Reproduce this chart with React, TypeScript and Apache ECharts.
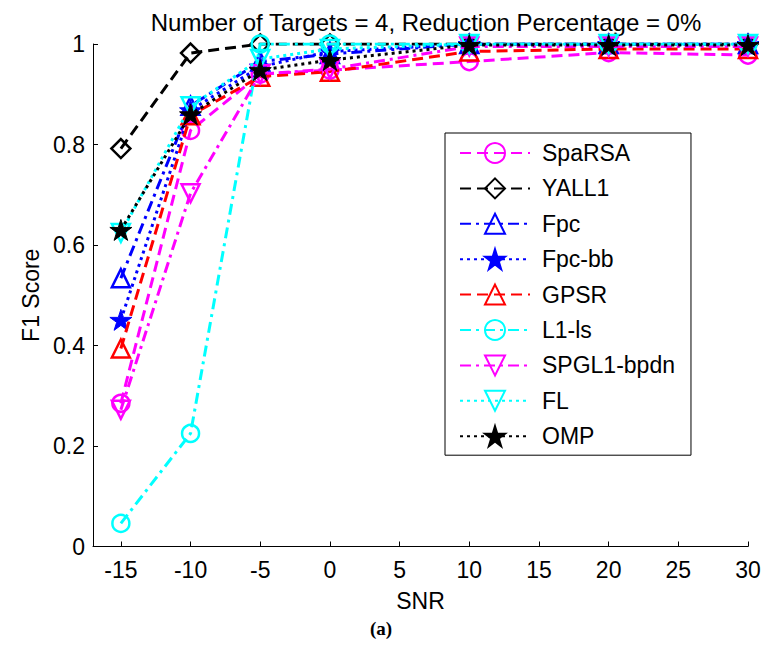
import React, { useEffect, useRef } from "react";
import * as echarts from "echarts";

const snr = [-15, -10, -5, 0, 10, 20, 30];
const xTicks = [-15, -10, -5, 0, 5, 10, 15, 20, 25, 30];
const yTicks = [0, 0.2, 0.4, 0.6, 0.8, 1];

const spaRSA = [0.285, 0.828, 0.94, 0.948, 0.965, 0.983, 0.978];
const yall1 = [0.792, 0.982, 1.0, 1.0, 1.0, 1.0, 1.0];
const fpc = [0.534, 0.877, 0.965, 0.98, 1.0, 1.0, 1.0];
const fpcBB = [0.451, 0.868, 0.955, 0.985, 1.0, 1.0, 1.0];
const gpsr = [0.394, 0.858, 0.935, 0.945, 0.985, 0.99, 0.99];
const l1ls = [0.046, 0.225, 1.0, 1.0, 1.0, 1.0, 1.0];
const spgl1 = [0.272, 0.703, 0.94, 0.95, 0.995, 0.995, 0.995];
const fl = [0.624, 0.876, 0.97, 0.99, 1.0, 1.0, 1.0];
const omp = [0.63, 0.86, 0.948, 0.968, 0.998, 0.998, 0.998];

const seriesNames = ["SpaRSA", "YALL1", "Fpc", "Fpc-bb", "GPSR", "L1-ls", "SPGL1-bpdn", "FL", "OMP"];
const seriesValues = [spaRSA, yall1, fpc, fpcBB, gpsr, l1ls, spgl1, fl, omp];

const STAR = "path://M50 0L61.2 34.5L97.6 34.5L68.2 55.9L79.4 90.5L50 69.1L20.6 90.5L31.8 55.9L2.4 34.5L38.8 34.5Z";
const DASH = [11, 6];
const DASHDOT = [11, 5, 3, 5];
const DOT = [3, 4];

const styles = [
  { color: "#ff00ff", dash: DASH, symbol: "circle", size: 17, fill: false, rotate: 0 },
  { color: "#000000", dash: DASH, symbol: "diamond", size: 19, fill: false, rotate: 0 },
  { color: "#0000ff", dash: DASHDOT, symbol: "triangle", size: 18, fill: false, rotate: 0 },
  { color: "#0000ff", dash: DOT, symbol: STAR, size: 22, fill: true, rotate: 0 },
  { color: "#ff0000", dash: DASH, symbol: "triangle", size: 18, fill: false, rotate: 0 },
  { color: "#00ffff", dash: DASHDOT, symbol: "circle", size: 17, fill: false, rotate: 0 },
  { color: "#ff00ff", dash: DASHDOT, symbol: "triangle", size: 18, fill: false, rotate: 180 },
  { color: "#00ffff", dash: DOT, symbol: "triangle", size: 18, fill: false, rotate: 180 },
  { color: "#000000", dash: DOT, symbol: STAR, size: 22, fill: true, rotate: 0 },
];

const FONT = "'Liberation Sans', Arial, Helvetica, sans-serif";
const FS = 23;

export default function App() {
  const ref = useRef<HTMLDivElement>(null);
  useEffect(() => {
    document.body.style.margin = "0";
    if (!ref.current) return;
    const chart = echarts.init(ref.current, null, { renderer: "svg" });
    const series = seriesNames.map((name, k) => {
      const st = styles[k];
      return {
        name,
        type: "line",
        data: snr.map((x, i) => [x, seriesValues[k][i]]),
        symbol: st.symbol,
        symbolSize: st.size,
        symbolRotate: st.rotate,
        symbolKeepAspect: true,
        showAllSymbol: true,
        lineStyle: { color: st.color, width: 3, type: st.dash },
        itemStyle: {
          color: st.fill ? st.color : "rgba(255,255,255,0)",
          borderColor: st.color,
          borderWidth: st.fill ? 1 : 2.5,
        },
        emphasis: { disabled: true },
        z: 2 + k,
      };
    });
    chart.setOption({
      animation: false,
      backgroundColor: "#ffffff",
      title: {
        text: "Number of Targets = 4, Reduction Percentage = 0%",
        left: 421,
        top: 5,
        textAlign: "center",
        textStyle: { fontFamily: FONT, fontSize: 24, fontWeight: "normal", color: "#000" },
      },
      grid: { left: 93, right: 14, top: 44, bottom: 99.5, outerBoundsMode: "none" },
      xAxis: {
        type: "value",
        min: -17,
        max: 30,
        name: "SNR",
        nameLocation: "middle",
        nameGap: 43,
        nameTextStyle: { fontFamily: FONT, fontSize: FS, color: "#000" },
        axisLine: { onZero: false, lineStyle: { color: "#000", width: 1 } },
        axisTick: { inside: true, length: 5, customValues: xTicks, lineStyle: { color: "#000" } },
        axisLabel: { customValues: xTicks, margin: 12, fontFamily: FONT, fontSize: FS, color: "#000" },
        splitLine: { show: false },
      },
      yAxis: {
        type: "value",
        min: 0,
        max: 1,
        interval: 0.2,
        name: "F1 Score",
        nameLocation: "middle",
        nameGap: 50,
        nameTextStyle: { fontFamily: FONT, fontSize: FS, color: "#000" },
        axisLine: { show: true, onZero: false, lineStyle: { color: "#000", width: 1 } },
        axisTick: { show: true, inside: true, length: 5, customValues: yTicks, lineStyle: { color: "#000" } },
        axisLabel: { customValues: yTicks, margin: 8, fontFamily: FONT, fontSize: FS, color: "#000" },
        splitLine: { show: false },
      },
      legend: {
        orient: "vertical",
        left: 445,
        top: 133,
        itemWidth: 70,
        itemHeight: 25,
        itemGap: 12.4,
        padding: [8.5, 16, 7.5, 14],
        borderColor: "#000",
        borderWidth: 1,
        backgroundColor: "#fff",
        textStyle: { fontFamily: FONT, fontSize: FS, color: "#000", padding: [0, 0, 0, 7] },
        data: seriesNames,
      },
      graphic: [
        {
          type: "text",
          left: "center",
          top: 619,
          style: {
            text: "(a)",
            x: 0,
            fontFamily: "'Liberation Serif', 'Times New Roman', serif",
            fontSize: 19,
            fontWeight: "bold",
            fill: "#000",
          },
        },
      ],
      series,
    });
    return () => chart.dispose();
  }, []);
  return <div ref={ref} style={{ width: 762, height: 646 }} />;
}
